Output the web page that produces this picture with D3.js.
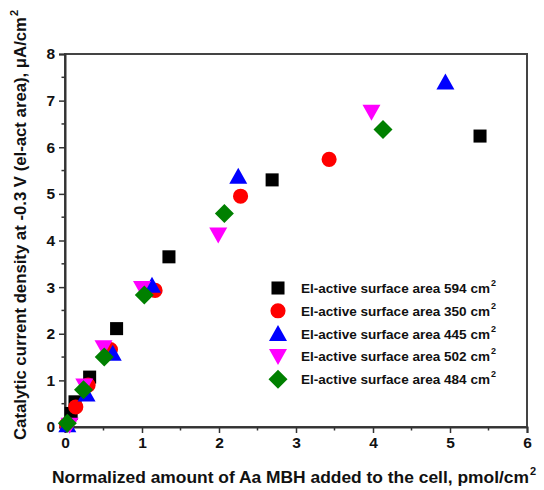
<!DOCTYPE html>
<html>
<head>
<meta charset="utf-8">
<script src="https://cdn.jsdelivr.net/npm/d3@7"></script>
<style>
  body { margin: 0; background: #fff; }
  text { font-family: "Liberation Sans", Arial, sans-serif; font-weight: bold; }
</style>
</head>
<body>
<div id="chart"></div>
<script>
// values
const seriesNames = ["594", "350", "445", "502", "484"];
const seriesColors = ["#000000", "#ff0000", "#0000ff", "#ff00ff", "#008000"];
const seriesSymbols = ["square", "circle", "triangle", "down", "diamond"];

const area594 = [[0.08, 0.29], [0.13, 0.54], [0.32, 1.07], [0.67, 2.11], [1.35, 3.65], [2.69, 5.30], [5.39, 6.24]];
const area350 = [[0.02, 0.05], [0.14, 0.43], [0.30, 0.90], [0.59, 1.66], [1.17, 2.93], [2.28, 4.95], [3.43, 5.74]];
const area445 = [[0.03, 0.05], [0.28, 0.71], [0.62, 1.58], [1.13, 3.04], [2.25, 5.38], [4.94, 7.40]];
const area502 = [[0.06, 0.04], [0.25, 0.88], [0.50, 1.70], [1.00, 2.97], [1.99, 4.12], [3.98, 6.75]];
const area484 = [[0.03, 0.08], [0.24, 0.80], [0.51, 1.50], [1.03, 2.83], [2.07, 4.58], [4.13, 6.38]];
const allSeries = [area594, area350, area445, area502, area484];

const xTicks = [0, 1, 2, 3, 4, 5, 6];
const yTicks = [0, 1, 2, 3, 4, 5, 6, 7, 8];

const margin = { top: 54, right: 17, bottom: 63, left: 65 },
    width = 544 - margin.left - margin.right,
    height = 490 - margin.top - margin.bottom;

const svg = d3.select("#chart")
    .append("svg")
    .attr("width", 544)
    .attr("height", 490);

const g = svg.append("g")
    .attr("transform", `translate(${margin.left},${margin.top})`);

const x = d3.scaleLinear().domain([0, 6]).range([0, width]);
const y = d3.scaleLinear().domain([0, 8]).range([height, 0]);

// frame
g.append("rect")
    .attr("width", width)
    .attr("height", height)
    .attr("fill", "none")
    .attr("stroke", "#444")
    .attr("stroke-width", 2);

// minor ticks
const xMinor = d3.range(0.5, 6, 1);
const yMinor = d3.range(0.5, 8, 1);
g.selectAll(".xminor").data(xMinor).join("line")
    .attr("x1", d => x(d)).attr("x2", d => x(d))
    .attr("y1", height).attr("y2", height + 3.5)
    .attr("stroke", "#333").attr("stroke-width", 1.5);
g.selectAll(".yminor").data(yMinor).join("line")
    .attr("x1", 0).attr("x2", -3.5)
    .attr("y1", d => y(d)).attr("y2", d => y(d))
    .attr("stroke", "#333").attr("stroke-width", 1.5);

// axes
const xAxis = g.append("g")
    .attr("transform", `translate(0,${height})`)
    .call(d3.axisBottom(x).tickValues(xTicks).tickSize(6).tickPadding(4).tickFormat(d3.format("d")));
const yAxis = g.append("g")
    .call(d3.axisLeft(y).tickValues(yTicks).tickSize(6).tickPadding(4).tickFormat(d3.format("d")));

[xAxis, yAxis].forEach(a => {
    a.select(".domain").attr("stroke", "#333").attr("stroke-width", 2);
    a.selectAll(".tick line").attr("stroke", "#333").attr("stroke-width", 1.5);
    a.selectAll(".tick text")
        .attr("font-size", 15.5)
        .attr("font-family", "Liberation Sans, Arial, sans-serif")
        .attr("font-weight", "bold")
        .attr("fill", "#111");
});

// symbols
function symbolPath(kind) {
    if (kind === "square") return d3.symbol().type(d3.symbolSquare).size(170)();
    if (kind === "circle") return d3.symbol().type(d3.symbolCircle).size(180)();
    if (kind === "diamond") return "M0,-9.5L9.5,0L0,9.5L-9.5,0Z";
    if (kind === "triangle") return "M0,-8.5L9,7.5L-9,7.5Z";
    return "M0,8.5L9,-7.5L-9,-7.5Z";
}

allSeries.forEach((data, i) => {
    g.selectAll(".s" + i)
        .data(data)
        .join("path")
        .attr("class", "s" + i)
        .attr("d", symbolPath(seriesSymbols[i]))
        .attr("transform", d => `translate(${x(d[0])},${y(d[1])})`)
        .attr("fill", seriesColors[i]);
});

// legend
const legend = svg.append("g").attr("transform", "translate(278,288)");
seriesNames.forEach((name, i) => {
    const row = legend.append("g").attr("transform", `translate(0,${i * 22.8})`);
    row.append("path")
        .attr("d", symbolPath(seriesSymbols[i]))
        .attr("fill", seriesColors[i]);
    row.append("text")
        .attr("x", 23)
        .attr("y", 5)
        .attr("font-size", 13)
        .attr("textLength", 189)
        .attr("lengthAdjust", "spacingAndGlyphs")
        .attr("fill", "#111")
        .text(`El-active surface area ${name} cm`);
    row.append("text")
        .attr("x", 213)
        .attr("y", -2)
        .attr("font-size", 9)
        .attr("fill", "#111")
        .text("2");
});

// axis titles
svg.append("text")
    .attr("x", 52)
    .attr("y", 483)
    .attr("font-size", 16.5)
    .attr("textLength", 477)
    .attr("lengthAdjust", "spacingAndGlyphs")
    .attr("fill", "#111")
    .text("Normalized amount of Aa MBH added to the cell, pmol/cm");
svg.append("text")
    .attr("x", 530)
    .attr("y", 475)
    .attr("font-size", 11)
    .attr("fill", "#111")
    .text("2");

const yt = svg.append("g").attr("transform", "translate(26,440) rotate(-90)");
yt.append("text")
    .attr("font-size", 16.5)
    .attr("textLength", 423)
    .attr("lengthAdjust", "spacingAndGlyphs")
    .attr("fill", "#111")
    .text("Catalytic current density at -0.3 V (el-act area), \u03bcA/cm");
yt.append("text")
    .attr("x", 424)
    .attr("y", -8)
    .attr("font-size", 11)
    .attr("fill", "#111")
    .text("2");
</script>
</body>
</html>
